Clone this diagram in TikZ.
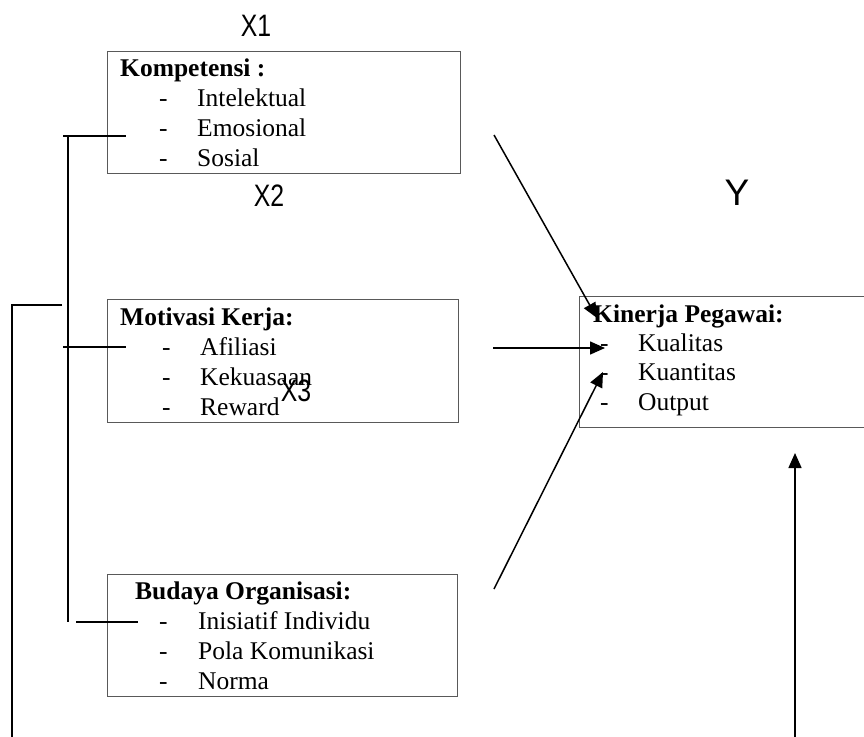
\documentclass[tikz,border=0pt]{standalone}
\usepackage{fontspec}
\usepackage{graphicx}
\setmainfont{Liberation Serif}
\newfontfamily\labfont{Liberation Sans}
\usetikzlibrary{arrows.meta}
\tikzset{
  box/.style={draw=black!65, line width=1pt, rectangle, inner sep=0pt},
  ttl/.style={anchor=base west, inner sep=0pt, font=\fontsize{25.5}{30}\selectfont\bfseries},
  itm/.style={anchor=base west, inner sep=0pt, font=\fontsize{25.5}{30}\selectfont},
  lab/.style={inner sep=0pt, font=\fontsize{31}{34}\selectfont\labfont},
  conn/.style={line width=1.5pt, black},
  thick conn/.style={line width=2.2pt, black},
  arr/.style={conn, -{Triangle[length=15pt,width=13pt]}}
}
\begin{document}
\begin{tikzpicture}[x=1pt,y=-1pt]
\useasboundingbox (0,0) rectangle (864,736);

% boxes
\node[box, minimum width=353pt, minimum height=122pt] (b1) at (283.5,112) {};
\node[box, minimum width=351pt, minimum height=123pt] (b2) at (282.5,360.5) {};
\node[box, minimum width=350pt, minimum height=122pt] (b3) at (282,635) {};
\node[box, minimum width=287pt, minimum height=131pt] (b4) at (722.5,361.5) {};

% box 1
\node[ttl] (t1) at (120,76) {Kompetensi :};
\node[itm] (d11) at (159,106) {-};
\node[itm] (i11) at (197,106) {Intelektual};
\node[itm] (d12) at (159,136.5) {-};
\node[itm] (i12) at (197,136.5) {Emosional};
\node[itm] (d13) at (159,166.5) {-};
\node[itm] (i13) at (197,166.5) {Sosial};

% box 2
\node[ttl] (t2) at (120,325) {Motivasi Kerja:};
\node[itm] (d21) at (162,355) {-};
\node[itm] (i21) at (200,355) {Afiliasi};
\node[itm] (d22) at (162,385) {-};
\node[itm] (i22) at (200,385) {Kekuasaan};
\node[itm] (d23) at (162,415) {-};
\node[itm] (i23) at (200,415) {Reward};

% box 3
\node[ttl] (t3) at (135,599) {Budaya Organisasi:};
\node[itm] (d31) at (159,629) {-};
\node[itm] (i31) at (198,629) {Inisiatif Individu};
\node[itm] (d32) at (159,659) {-};
\node[itm] (i32) at (198,659) {Pola Komunikasi};
\node[itm] (d33) at (159,689) {-};
\node[itm] (i33) at (198,689) {Norma};

% box 4
\node[ttl] (t4) at (593,322) {Kinerja Pegawai:};
\node[itm] (d41) at (600,351) {-};
\node[itm] (i41) at (638,351) {Kualitas};
\node[itm] (d42) at (600,380) {-};
\node[itm] (i42) at (638,380) {Kuantitas};
\node[itm] (d43) at (600,410) {-};
\node[itm] (i43) at (638,410) {Output};

% variable labels
\node[lab] (x1) at (256,26) {\scalebox{0.8}[1]{X1}};
\node[lab] (x2) at (269,196) {\scalebox{0.8}[1]{X2}};
\node[lab] (x3) at (296,391) {\scalebox{0.8}[1]{X3}};
\node[lab, font=\fontsize{37}{40}\selectfont\labfont] (y) at (737,193) {Y};

% connector end points
\coordinate (a1s) at (494,135);
\coordinate (a1e) at (597,318);
\coordinate (a2s) at (493,348);
\coordinate (a2e) at (605,348);
\coordinate (a3s) at (494,589);
\coordinate (a3e) at (603,372);
\coordinate (a4s) at (795,740);
\coordinate (a4e) at (795,453);

\draw[arr] (a1s) -- (a1e);
\draw[arr] (a2s) -- (a2e);
\draw[arr] (a3s) -- (a3e);
\draw[arr] (a4s) -- (a4e);

% left bracket
\coordinate (vt) at (68,136);
\coordinate (vb) at (68,622);
\coordinate (h1a) at (63,136);
\coordinate (h1b) at (126,136);
\coordinate (h2a) at (63,347);
\coordinate (h2b) at (126,347);
\coordinate (h3a) at (76,622);
\coordinate (h3b) at (138,622);
\draw[conn] (vt) -- (vb);
\draw[conn] (h1a) -- (h1b);
\draw[conn] (h2a) -- (h2b);
\draw[conn] (h3a) -- (h3b);

% outer loop
\coordinate (o1) at (62,305);
\coordinate (o2) at (12,305);
\coordinate (o3) at (12,740);
\draw[thick conn] (o1) -- (o2) -- (o3);
\end{tikzpicture}
\end{document}
